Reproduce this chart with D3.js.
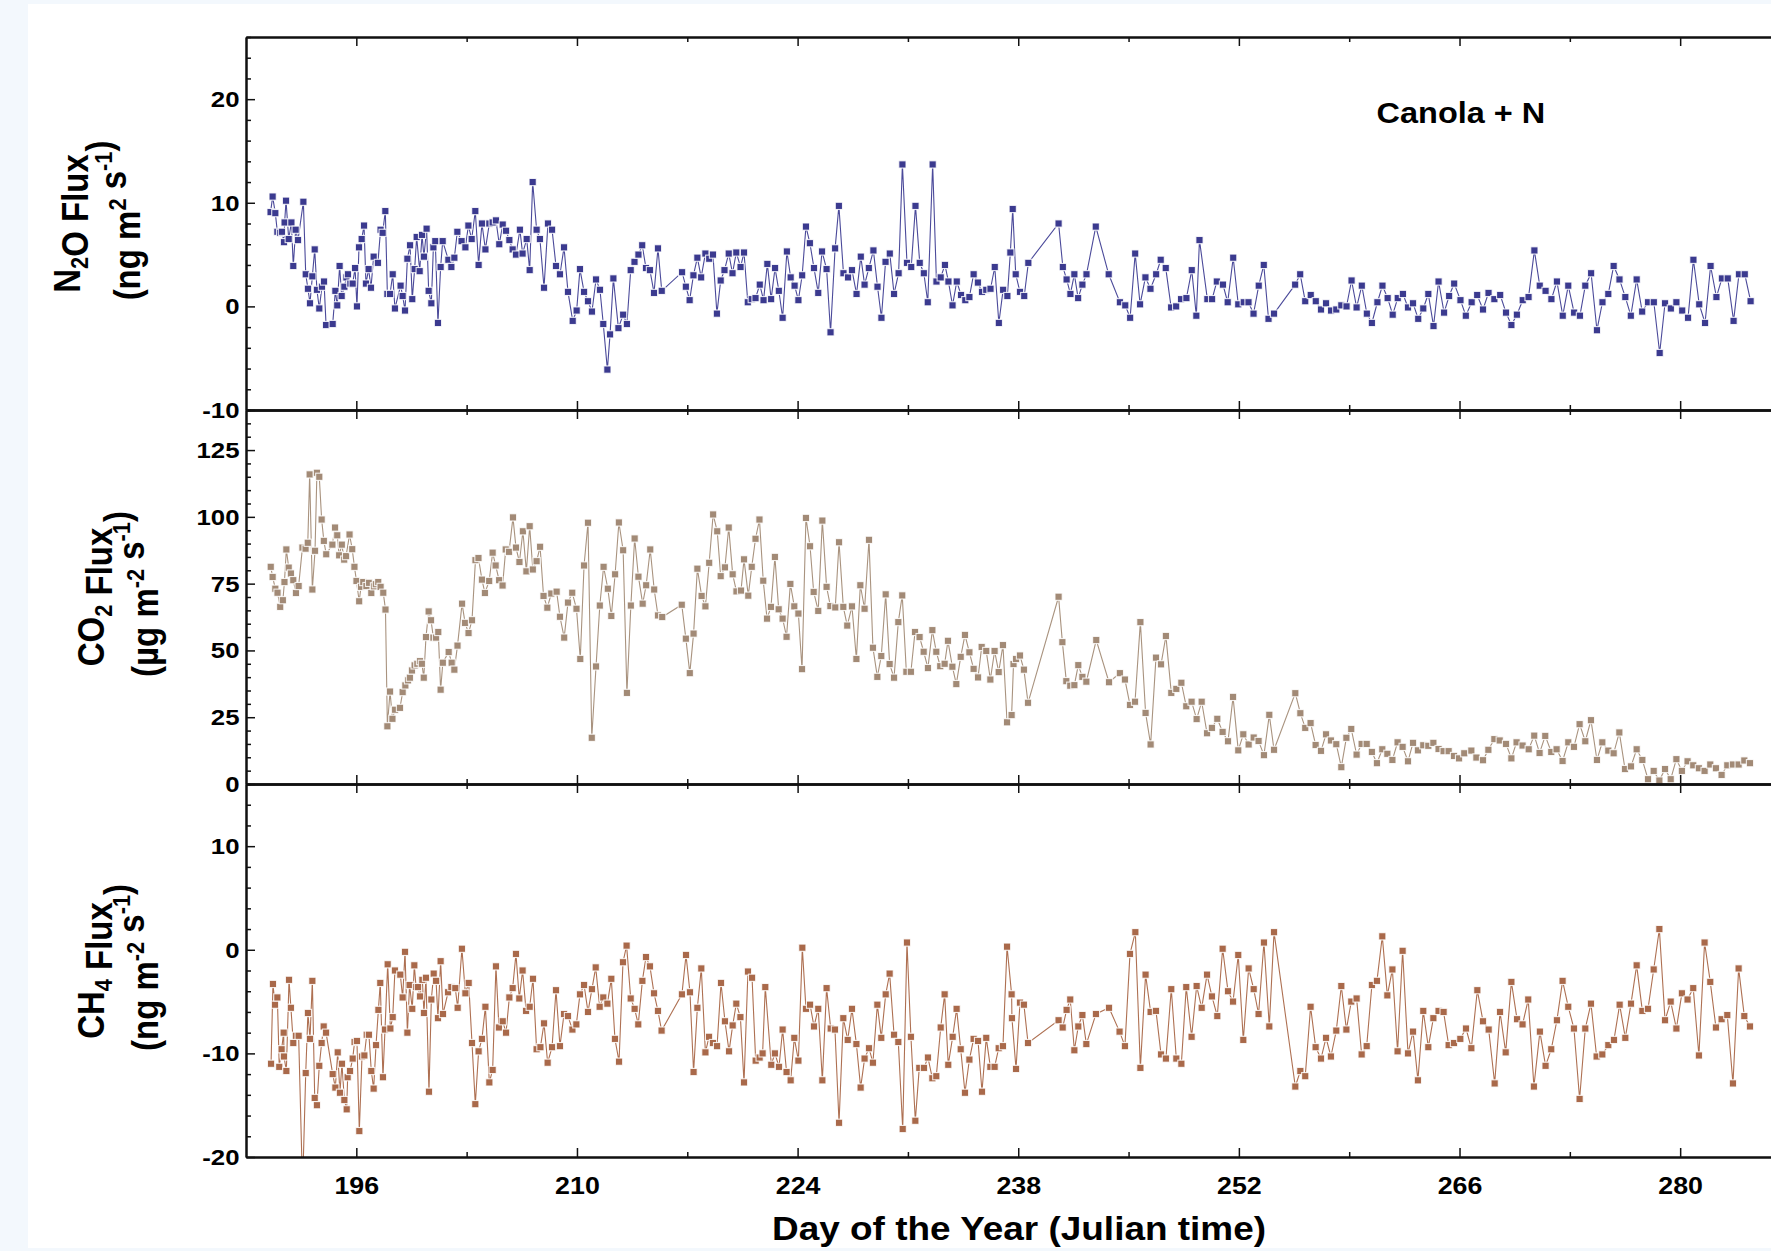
<!DOCTYPE html>
<html>
<head>
<meta charset="utf-8">
<script src="https://cdn.jsdelivr.net/npm/d3@7"></script>
<style>
body { margin: 0; background: #f3f8fd; }
svg { display: block; }
text { font-family: "Liberation Sans", Arial, Helvetica, sans-serif; font-weight: bold; fill: #000; }
</style>
</head>
<body>
<svg id="chart"></svg>
<script>
// data: [day of year, flux]
var n2oSeries = [
[190.56,9.1],[190.69,10.6],[190.86,9.0],[190.99,7.2],[191.16,7.1],[191.28,7.2],[191.41,6.2],[191.45,8.1],[191.54,10.2],[191.71,6.5],
[191.88,8.1],[192.00,3.9],[192.15,7.4],[192.30,6.4],[192.64,10.1],[192.79,3.1],[192.93,1.7],[193.06,0.3],[193.21,2.9],[193.36,5.5],
[193.50,1.6],[193.65,-0.2],[193.82,1.9],[193.95,2.4],[194.08,-1.8],[194.50,-1.7],[194.67,1.5],[194.79,0.1],[194.94,3.9],[195.07,1.0],
[195.24,1.9],[195.37,2.8],[195.47,3.1],[195.62,2.2],[195.77,2.2],[195.92,3.7],[196.04,0.0],[196.17,5.7],[196.34,6.5],[196.49,7.8],
[196.61,2.2],[196.78,3.6],[196.93,1.8],[197.10,4.8],[197.37,4.2],[197.54,7.4],[197.67,7.1],[197.84,9.2],[197.97,1.2],[198.14,1.2],
[198.31,3.1],[198.45,-0.2],[198.81,2.0],[198.94,1.0],[199.09,-0.4],[199.24,4.6],[199.41,5.9],[199.55,0.7],[199.70,3.6],[199.83,6.7],
[200.02,3.4],[200.17,6.9],[200.29,4.8],[200.46,7.5],[200.59,1.5],[200.76,0.3],[200.89,5.7],[201.01,6.3],[201.18,-1.6],[201.35,3.8],
[201.48,6.3],[201.84,4.5],[202.03,3.8],[202.22,4.7],[202.41,7.2],[202.68,6.3],[202.92,5.7],[203.11,7.8],[203.32,6.5],[203.55,9.2],
[203.76,4.0],[203.97,8.0],[204.19,5.5],[204.44,8.0],[204.65,8.1],[204.86,8.3],[205.07,6.0],[205.29,7.9],[205.50,7.3],[205.71,6.4],
[205.92,5.5],[206.13,5.0],[206.38,7.4],[206.55,5.1],[206.81,6.5],[207.00,3.5],[207.19,12.0],[207.44,7.4],[207.65,6.5],[207.91,1.8],
[208.16,8.0],[208.42,7.4],[208.67,3.9],[208.92,3.1],[209.18,5.7],[209.43,1.4],[209.73,-1.4],[209.98,-0.4],[210.19,3.6],[210.45,1.4],
[210.70,0.5],[210.95,-0.5],[211.21,2.6],[211.46,1.6],[211.67,-1.7],[211.93,-6.1],[212.10,-2.7],[212.31,2.7],[212.63,-2.1],[212.93,-0.8],
[213.17,-1.7],[213.41,3.5],[213.65,4.3],[213.90,5.0],[214.14,5.9],[214.38,3.7],[214.63,3.5],[214.89,1.3],[215.14,5.6],[215.38,1.5],
[216.67,3.3],[216.91,1.9],[217.15,0.6],[217.39,3.0],[217.64,4.7],[217.88,2.8],[218.15,5.1],[218.39,4.6],[218.63,5.0],[218.88,-0.7],
[219.12,2.5],[219.36,3.5],[219.63,5.1],[219.87,3.2],[220.11,5.2],[220.38,3.8],[220.60,5.2],[220.84,0.4],[221.09,0.7],[221.33,0.8],
[221.60,2.1],[221.84,0.6],[222.08,4.1],[222.32,0.7],[222.57,3.7],[222.81,1.5],[223.05,-1.1],[223.32,5.3],[223.56,2.8],[223.81,2.0],
[224.05,0.6],[224.29,3.0],[224.53,7.7],[224.78,6.1],[225.04,3.7],[225.31,1.3],[225.55,5.3],[225.84,3.6],[226.09,-2.5],[226.38,5.6],
[226.62,9.7],[226.91,3.2],[227.20,2.8],[227.45,3.5],[227.74,1.2],[228.01,4.8],[228.25,2.1],[228.52,3.7],[228.81,5.4],[229.07,1.9],
[229.32,-1.1],[229.58,4.3],[229.85,5.1],[230.12,1.2],[230.41,3.2],[230.65,13.7],[230.94,4.2],[231.21,3.8],[231.48,9.7],[231.75,4.2],
[232.01,3.2],[232.26,0.4],[232.57,13.7],[232.81,2.4],[233.08,2.8],[233.35,4.0],[233.57,2.4],[233.83,0.1],[234.10,2.4],[234.37,1.1],
[234.64,0.6],[234.90,0.9],[235.17,3.1],[235.44,2.3],[235.70,1.4],[235.97,1.6],[236.24,1.7],[236.51,3.8],[236.77,-1.6],[237.04,1.6],
[237.31,1.0],[237.50,5.2],[237.65,9.4],[237.84,3.1],[238.11,1.4],[238.38,1.0],[238.64,4.2],[240.56,8.0],[240.83,3.8],[241.07,2.6],
[241.31,1.2],[241.56,3.1],[241.80,0.8],[242.07,2.1],[242.33,3.1],[242.92,7.7],[243.74,3.1],[244.45,0.4],[244.79,0.1],[245.10,-1.1],
[245.42,5.1],[245.73,0.2],[246.07,2.8],[246.39,1.7],[246.75,3.1],[247.04,4.5],[247.36,3.7],[247.70,-0.1],[248.02,0.0],[248.33,0.7],
[248.67,0.8],[249.01,3.5],[249.30,-0.9],[249.50,6.4],[250.00,0.7],[250.30,0.7],[250.60,2.4],[250.99,2.1],[251.29,0.4],[251.64,4.7],
[251.96,0.2],[252.31,0.4],[252.61,0.4],[252.93,-0.7],[253.26,2.0],[253.58,4.0],[253.88,-1.2],[254.23,-0.7],[255.57,2.1],[255.89,3.1],
[256.21,0.5],[256.56,1.1],[256.88,0.5],[257.21,-0.3],[257.53,0.3],[257.85,-0.4],[258.18,-0.3],[258.50,0.1],[258.83,0.0],[259.15,2.5],
[259.47,-0.1],[259.80,2.0],[260.12,-0.7],[260.44,-1.6],[260.79,0.4],[261.11,2.0],[261.44,0.8],[261.76,-0.8],[262.08,0.8],[262.41,1.2],
[262.73,-0.1],[263.05,0.3],[263.38,-1.2],[263.70,-0.2],[264.02,1.2],[264.35,-1.9],[264.67,2.4],[265.02,-0.6],[265.34,1.0],[265.66,2.2],
[266.06,0.6],[266.40,-0.9],[266.77,0.4],[267.12,1.1],[267.49,-0.3],[267.84,1.3],[268.21,0.7],[268.58,1.1],[268.95,-0.6],[269.29,-1.8],
[269.64,-0.8],[270.01,0.6],[270.38,0.9],[270.75,5.4],[271.09,2.0],[271.46,1.5],[271.83,0.7],[272.18,2.4],[272.55,-0.9],[272.90,2.0],
[273.27,-0.6],[273.64,-0.9],[273.98,2.0],[274.35,3.2],[274.72,-2.3],[275.07,0.4],[275.44,1.2],[275.78,3.9],[276.15,2.6],[276.52,0.9],
[276.87,-0.9],[277.24,2.6],[277.59,-0.5],[277.96,0.4],[278.33,0.4],[278.70,-4.5],[279.04,0.3],[279.41,-0.2],[279.76,0.4],[280.13,-0.4],
[280.50,-1.1],[280.84,4.5],[281.21,0.2],[281.58,-1.6],[281.93,3.9],[282.30,0.9],[282.65,2.7],[283.02,2.7],[283.39,-1.4],[283.73,3.1],
[284.10,3.1],[284.47,0.5]
];

var co2Series = [
[190.57,81.3],[190.69,77.5],[190.86,73.1],[191.00,71.6],[191.17,66.3],[191.34,68.8],[191.44,75.6],[191.56,87.8],[191.71,81.0],[191.85,78.8],
[192.00,76.3],[192.17,71.5],[192.34,74.1],[192.58,88.5],[192.78,88.1],[192.92,90.3],[193.04,115.9],[193.21,72.8],[193.38,87.3],[193.50,116.5],
[193.65,115.0],[193.80,99.0],[193.94,91.0],[194.09,86.0],[194.48,89.6],[194.65,96.0],[194.79,93.1],[194.91,85.6],[195.08,89.6],[195.23,84.0],
[195.35,85.3],[195.57,93.4],[195.74,87.9],[195.88,81.3],[196.01,76.0],[196.18,68.4],[196.30,73.8],[196.44,75.6],[196.64,74.1],[196.81,75.3],
[196.95,71.5],[197.12,74.0],[197.24,74.8],[197.39,75.6],[197.54,73.8],[197.71,71.6],[197.85,65.3],[197.97,21.6],[198.14,34.6],[198.29,24.4],
[198.46,27.8],[198.77,28.5],[198.94,34.4],[199.11,36.9],[199.28,38.8],[199.40,39.8],[199.53,42.5],[199.70,44.4],[199.87,45.0],[200.04,46.0],
[200.16,45.0],[200.28,39.8],[200.42,55.0],[200.59,64.6],[200.74,61.3],[200.89,54.8],[201.06,54.8],[201.20,56.9],[201.35,35.3],[201.49,45.4],
[201.86,49.4],[202.05,45.4],[202.22,42.8],[202.42,51.8],[202.71,67.5],[202.90,60.3],[203.12,56.5],[203.34,61.3],[203.56,83.8],[203.75,84.6],
[203.97,76.5],[204.16,71.5],[204.43,76.0],[204.65,86.6],[204.84,81.8],[205.06,76.3],[205.28,74.3],[205.48,87.8],[205.69,86.9],[205.94,99.8],
[206.13,88.5],[206.35,83.1],[206.57,94.6],[206.79,79.6],[207.00,96.5],[207.20,80.3],[207.44,83.4],[207.66,88.8],[207.88,70.4],[208.12,66.0],
[208.37,71.3],[208.71,72.0],[208.92,62.6],[209.19,54.8],[209.43,67.9],[209.70,71.6],[209.97,65.6],[210.21,46.8],[210.45,81.8],[210.70,97.8],
[210.94,17.3],[211.21,44.0],[211.45,66.8],[211.69,81.3],[211.96,73.1],[212.18,62.9],[212.42,78.5],[212.66,97.9],[212.93,87.5],[213.17,34.1],
[213.42,66.8],[213.66,91.9],[213.90,77.6],[214.17,67.5],[214.39,74.4],[214.65,87.8],[214.90,72.8],[215.14,63.1],[215.41,62.5],[216.65,67.1],
[216.91,54.4],[217.16,41.5],[217.40,56.3],[217.64,80.6],[217.91,70.4],[218.15,66.5],[218.39,82.8],[218.64,100.9],[218.90,94.6],[219.12,77.8],
[219.39,81.1],[219.63,96.0],[219.88,78.5],[220.12,72.1],[220.41,72.4],[220.60,84.1],[220.87,70.5],[221.09,81.3],[221.33,91.8],[221.58,99.0],
[221.82,76.1],[222.06,61.9],[222.31,66.3],[222.56,85.0],[222.80,65.4],[223.05,61.9],[223.30,55.1],[223.54,74.9],[223.79,66.5],[224.05,63.8],
[224.28,43.0],[224.53,99.6],[224.79,89.0],[225.02,71.9],[225.31,64.8],[225.57,98.6],[225.84,73.8],[226.08,66.6],[226.39,66.1],[226.63,90.5],
[226.90,66.3],[227.15,59.3],[227.45,66.5],[227.73,46.8],[227.98,74.4],[228.25,65.6],[228.53,91.4],[228.78,51.0],[229.06,40.1],[229.31,47.9],
[229.59,71.0],[229.84,44.9],[230.12,39.8],[230.39,60.6],[230.64,70.6],[230.90,42.0],[231.19,42.0],[231.45,56.9],[231.74,55.0],[232.00,49.5],
[232.27,43.4],[232.55,57.6],[232.80,49.5],[233.05,44.1],[233.33,45.0],[233.54,53.6],[233.82,43.9],[234.07,37.4],[234.35,47.6],[234.62,55.8],
[234.90,49.3],[235.17,43.1],[235.45,39.9],[235.68,51.3],[235.97,49.8],[236.23,39.1],[236.50,49.8],[236.76,41.9],[237.03,52.0],[237.29,23.1],
[237.58,25.8],[237.70,44.9],[237.86,46.8],[238.11,48.1],[238.36,42.8],[238.62,30.4],[240.56,70.1],[240.80,53.1],[241.05,38.5],[241.30,36.8],
[241.56,37.0],[241.81,44.5],[242.07,40.1],[242.32,38.3],[242.95,53.9],[243.76,38.1],[244.45,41.5],[244.77,39.1],[245.09,29.6],[245.41,30.8],
[245.75,60.6],[246.08,26.6],[246.40,14.8],[246.74,47.3],[247.06,44.8],[247.37,55.4],[247.71,34.1],[248.03,35.6],[248.35,37.9],[248.66,29.1],
[249.00,30.8],[249.32,24.3],[249.64,30.8],[249.98,19.0],[250.29,21.0],[250.63,24.4],[250.97,19.5],[251.31,16.0],[251.63,32.6],[251.96,12.6],
[252.28,18.6],[252.62,14.8],[252.94,17.4],[253.25,16.1],[253.59,10.8],[253.93,25.9],[254.23,12.8],[255.58,34.0],[255.90,26.5],[256.21,21.0],
[256.55,22.8],[256.87,14.6],[257.21,12.4],[257.53,18.6],[257.84,16.3],[258.18,14.9],[258.50,6.3],[258.82,17.3],[259.13,20.6],[259.47,11.0],
[259.79,15.0],[260.11,15.0],[260.44,12.0],[260.76,7.8],[261.10,13.0],[261.42,11.3],[261.74,9.0],[262.07,15.6],[262.39,13.9],[262.73,8.5],
[263.05,15.4],[263.36,12.6],[263.70,14.5],[264.02,14.3],[264.34,15.4],[264.67,13.1],[264.99,12.3],[265.31,12.3],[265.65,10.5],[265.97,9.6],
[266.30,11.5],[266.75,12.5],[267.07,9.9],[267.49,8.9],[267.83,12.8],[268.21,16.8],[268.55,16.3],[268.95,15.0],[269.29,9.6],[269.62,15.6],
[270.00,14.4],[270.39,13.0],[270.74,18.1],[271.08,11.6],[271.44,18.0],[271.82,12.0],[272.16,13.0],[272.54,8.6],[272.90,15.6],[273.26,13.9],
[273.62,22.4],[273.98,16.0],[274.34,23.9],[274.72,9.0],[275.06,15.6],[275.44,12.5],[275.78,11.5],[276.14,19.3],[276.50,5.6],[276.88,6.6],
[277.24,13.0],[277.60,9.0],[277.96,1.8],[278.32,4.9],[278.68,1.3],[279.04,5.6],[279.40,1.8],[279.76,9.3],[280.11,4.9],[280.47,8.5],
[280.83,7.0],[281.19,5.9],[281.55,4.9],[281.91,7.3],[282.27,5.9],[282.63,3.4],[282.99,7.0],[283.35,7.3],[283.71,7.3],[284.07,8.8],
[284.43,7.8]
];

var ch4Series = [
[190.59,-11.0],[190.71,-3.3],[190.84,-5.3],[190.99,-4.6],[191.11,-11.3],[191.26,-9.6],[191.39,-8.0],[191.41,-10.3],[191.56,-11.7],[191.73,-2.9],
[191.85,-5.6],[192.00,-9.0],[192.17,-8.3],[192.34,-8.3],[192.59,-23.0],[192.79,-11.9],[192.93,-6.1],[193.06,-8.6],[193.21,-3.0],[193.36,-14.3],
[193.50,-15.0],[193.65,-11.2],[193.80,-9.0],[193.93,-7.4],[194.08,-8.0],[194.50,-12.0],[194.67,-13.3],[194.82,-9.9],[194.96,-13.8],[195.09,-11.0],
[195.24,-14.5],[195.39,-15.4],[195.45,-12.3],[195.60,-11.7],[195.77,-10.5],[195.89,-8.9],[196.04,-8.8],[196.19,-17.5],[196.36,-10.3],[196.51,-10.2],
[196.66,-8.2],[196.80,-8.2],[196.95,-11.7],[197.10,-13.4],[197.25,-9.2],[197.40,-5.8],[197.52,-3.2],[197.69,-12.3],[197.82,-7.7],[197.99,-1.4],
[198.16,-7.6],[198.31,-6.5],[198.45,-2.0],[198.79,-2.4],[198.94,-4.6],[199.09,-0.2],[199.24,-8.0],[199.38,-3.4],[199.55,-5.7],[199.68,-1.5],
[199.79,-3.6],[199.91,-3.6],[200.04,-4.5],[200.19,-2.9],[200.29,-6.1],[200.42,-2.7],[200.61,-13.7],[200.76,-4.8],[200.91,-2.3],[201.06,-3.0],
[201.18,-6.6],[201.35,-1.1],[201.50,-6.2],[201.82,-4.1],[202.03,-3.6],[202.28,-3.7],[202.43,-5.6],[202.70,0.1],[202.92,-4.2],[203.13,-3.2],
[203.34,-9.0],[203.55,-14.9],[203.76,-9.8],[203.97,-8.6],[204.19,-5.5],[204.44,-12.8],[204.65,-11.6],[204.86,-1.6],[205.05,-7.5],[205.29,-6.9],
[205.50,-8.0],[205.71,-4.6],[205.92,-3.7],[206.13,-0.4],[206.34,-4.7],[206.55,-2.0],[206.77,-5.9],[207.00,-5.5],[207.21,-2.8],[207.44,-9.6],
[207.68,-9.4],[207.91,-7.1],[208.14,-10.9],[208.42,-9.4],[208.67,-3.9],[208.92,-9.3],[209.18,-6.2],[209.43,-6.4],[209.71,-7.7],[209.96,-7.2],
[210.19,-4.3],[210.45,-3.4],[210.70,-6.0],[210.95,-3.8],[211.19,-1.7],[211.44,-5.5],[211.67,-4.6],[211.93,-5.2],[212.18,-2.8],[212.41,-8.6],
[212.67,-10.8],[212.92,-1.2],[213.15,0.4],[213.41,-4.7],[213.66,-5.7],[213.89,-7.2],[214.15,-3.0],[214.38,-0.7],[214.63,-1.6],[214.89,-4.2],
[215.14,-5.9],[215.37,-7.8],[216.66,-4.3],[216.92,-0.5],[217.17,-4.1],[217.40,-11.8],[217.64,-5.6],[217.89,-1.8],[218.15,-9.9],[218.38,-8.4],
[218.63,-9.0],[218.89,-9.3],[219.14,-3.2],[219.39,-6.9],[219.65,-9.8],[219.88,-7.3],[220.11,-5.2],[220.37,-6.5],[220.60,-12.8],[220.85,-2.1],
[221.11,-2.7],[221.34,-10.7],[221.59,-10.4],[221.78,-10.0],[221.95,-3.6],[222.33,-11.1],[222.56,-10.0],[222.82,-11.3],[223.05,-7.7],[223.30,-11.8],
[223.56,-12.6],[223.79,-8.5],[224.05,-10.7],[224.30,0.2],[224.53,-5.7],[224.79,-5.3],[225.04,-7.4],[225.31,-5.7],[225.57,-12.6],[225.84,-3.7],
[226.10,-7.6],[226.37,-7.7],[226.63,-16.7],[226.90,-6.6],[227.18,-8.7],[227.45,-5.7],[227.73,-9.1],[228.00,-13.3],[228.25,-10.5],[228.53,-9.5],
[228.78,-10.9],[229.06,-5.3],[229.31,-8.5],[229.59,-4.3],[229.84,-2.3],[230.12,-8.2],[230.39,-8.9],[230.67,-17.3],[230.94,0.7],[231.19,-8.4],
[231.47,-16.5],[231.72,-11.4],[232.02,-11.4],[232.27,-10.4],[232.55,-12.4],[232.80,-12.2],[233.08,-7.5],[233.33,-4.3],[233.56,-11.1],[233.84,-8.4],
[234.09,-5.7],[234.35,-9.6],[234.62,-13.8],[234.90,-10.6],[235.17,-8.6],[235.45,-8.8],[235.70,-13.7],[235.97,-8.5],[236.23,-11.3],[236.50,-11.3],
[236.76,-9.5],[237.03,-9.3],[237.29,0.3],[237.58,-4.3],[237.60,-6.6],[237.86,-11.5],[238.11,-5.1],[238.36,-5.3],[238.62,-9.0],[240.56,-6.8],
[240.82,-7.5],[241.07,-5.8],[241.30,-4.8],[241.56,-9.7],[241.81,-7.4],[242.07,-6.3],[242.32,-9.1],[242.93,-6.2],[243.76,-5.6],[244.43,-7.9],
[244.77,-9.3],[245.09,-0.4],[245.43,1.7],[245.75,-11.4],[246.08,-2.4],[246.40,-6.0],[246.74,-5.9],[247.06,-10.1],[247.37,-10.5],[247.71,-3.8],
[248.03,-10.5],[248.35,-11.0],[248.66,-3.6],[249.00,-8.4],[249.32,-3.5],[249.64,-5.6],[249.98,-2.4],[250.29,-4.5],[250.63,-6.4],[250.97,0.1],
[251.31,-4.0],[251.63,-5.0],[251.96,-0.5],[252.28,-8.7],[252.62,-1.8],[252.94,-3.8],[253.25,-6.2],[253.59,0.7],[253.93,-7.4],[254.23,1.7],
[255.58,-13.2],[255.90,-11.7],[256.21,-12.2],[256.55,-5.5],[256.87,-9.4],[257.21,-10.5],[257.53,-8.5],[257.84,-10.3],[258.18,-7.8],[258.50,-3.5],
[258.82,-7.7],[259.13,-5.0],[259.47,-4.7],[259.79,-10.1],[260.11,-9.3],[260.44,-3.4],[260.76,-3.0],[261.10,1.3],[261.42,-4.4],[261.74,-1.9],
[262.07,-9.8],[262.39,-0.1],[262.73,-10.0],[263.05,-7.9],[263.36,-12.6],[263.70,-5.9],[264.02,-9.4],[264.34,-6.6],[264.67,-5.9],[264.99,-6.0],
[265.31,-9.2],[265.65,-9.0],[266.05,-8.6],[266.41,-7.6],[266.75,-9.5],[267.13,-3.9],[267.49,-6.9],[267.85,-7.7],[268.23,-12.9],[268.57,-6.0],
[268.93,-9.9],[269.29,-3.1],[269.65,-6.7],[270.00,-7.2],[270.36,-4.8],[270.72,-13.2],[271.10,-7.9],[271.46,-11.2],[271.82,-9.6],[272.18,-6.8],
[272.54,-3.0],[272.90,-5.5],[273.26,-7.6],[273.62,-14.4],[273.98,-7.6],[274.34,-5.2],[274.70,-10.3],[275.06,-10.1],[275.44,-9.2],[275.80,-8.7],
[276.16,-5.3],[276.52,-8.5],[276.88,-5.2],[277.24,-1.5],[277.60,-5.9],[277.96,-5.7],[278.32,-1.9],[278.68,2.0],[279.04,-6.8],[279.40,-5.0],
[279.76,-7.6],[280.11,-4.2],[280.47,-4.8],[280.83,-3.7],[281.19,-10.2],[281.55,0.7],[281.91,-3.1],[282.27,-7.5],[282.63,-6.7],[282.99,-6.3],
[283.35,-12.9],[283.71,-1.8],[284.07,-6.4],[284.43,-7.4]
];

// tick labels
var dayTicks = [196, 210, 224, 238, 252, 266, 280];
var dayMinorTicks = [203, 217, 231, 245, 259, 273, 287];
var n2oTicks = [-10, 0, 10, 20];
var co2Ticks = [0, 25, 50, 75, 100, 125];
var ch4Ticks = [-20, -10, 0, 10];

var W = 1771, H = 1251;
var svg = d3.select("#chart").attr("width", W).attr("height", H);

// page: light tint at the edges, white sheet
svg.append("rect").attr("width", W).attr("height", H).attr("fill", "#f3f8fd");
svg.append("rect").attr("x", 28).attr("y", 4).attr("width", W - 28).attr("height", 1244).attr("fill", "#fff");

var left = 246;
var xScale = d3.scaleLinear().domain([189, 287]).range([left, left + 98 * 15.76]);

var panels = [
  {id: "n2o", data: n2oSeries, top: 37, bottom: 410, domain: [-10, 26], ticks: n2oTicks, minor: 2,
   marker: "#3b3a8f", line: "#4b4a9a",
   title: [["N"], ["2", "sub"], ["O Flux"]],
   unit: [["(ng m"], ["2", "sup"], [" s"], ["-1", "sup"], [")"]], tx1: 80, tx2: 140},
  {id: "co2", data: co2Series, top: 410, bottom: 784, domain: [0, 140], ticks: co2Ticks, minor: 5,
   marker: "#a28a76", line: "#a9937f",
   title: [["CO"], ["2", "sub"], [" Flux"]],
   unit: [["(\u00b5g m"], ["-2", "sup"], [" s"], ["-1", "sup"], [")"]], tx1: 104, tx2: 158},
  {id: "ch4", data: ch4Series, top: 784, bottom: 1157, domain: [-20, 16], ticks: ch4Ticks, minor: 2,
   marker: "#a9694a", line: "#ae7052",
   title: [["CH"], ["4", "sub"], [" Flux"]],
   unit: [["(ng m"], ["-2", "sup"], [" s"], ["-1", "sup"], [")"]], tx1: 104, tx2: 158}
];

// plain hyphen for negatives, as in the figure
var plainFormat = function(d) { return String(d); };

function stretchText(sel, k) {
  sel.each(function() {
    var t = d3.select(this);
    var x = +t.attr("x") || 0;
    t.attr("transform", "translate(" + x + ",0) scale(" + k + ",1)").attr("x", 0);
  });
}

function styleAxis(g) {
  g.attr("font-family", null).attr("font-size", null);
  g.select(".domain").attr("stroke", "#111").attr("stroke-width", 2);
  g.selectAll(".tick line").attr("stroke", "#111").attr("stroke-width", 1.5);
}

function richText(el, parts, size) {
  parts.forEach(function(p) {
    var ts = el.append("tspan").text(p[0]);
    if (p[1] == "sub") ts.attr("font-size", size * 0.66).attr("dy", size * 0.22);
    if (p[1] == "sup") ts.attr("font-size", size * 0.66).attr("dy", -size * 0.38);
    if (p[1]) {
      var back = p[1] == "sub" ? -size * 0.22 : size * 0.38;
      el.append("tspan").attr("font-size", size).attr("dy", back).text("");
    }
  });
}

panels.forEach(function(p) {
  var y = d3.scaleLinear().domain(p.domain).range([p.bottom, p.top]);
  var clipId = "clip-" + p.id;
  svg.append("clipPath").attr("id", clipId).append("rect")
    .attr("x", left).attr("y", p.top).attr("width", W - left).attr("height", p.bottom - p.top);

  var plot = svg.append("g").attr("clip-path", "url(#" + clipId + ")");

  var line = d3.line()
    .x(function(d) { return xScale(d[0]); })
    .y(function(d) { return y(d[1]); });

  plot.append("path")
    .datum(p.data)
    .attr("d", line)
    .attr("fill", "none")
    .attr("stroke", p.line)
    .attr("stroke-width", 1.1);

  plot.selectAll(".dot")
    .data(p.data)
    .enter()
    .append("rect")
    .attr("class", "dot")
    .attr("x", function(d) { return xScale(d[0]) - 3.6; })
    .attr("y", function(d) { return y(d[1]) - 3.6; })
    .attr("width", 7.2)
    .attr("height", 7.2)
    .attr("fill", p.marker)
    .attr("stroke", "#fff")
    .attr("stroke-opacity", 0.85)
    .attr("stroke-width", 1.1);

  // y axis: major ticks with labels, minor ticks, all pointing inward
  var minorVals = d3.range(p.domain[0], p.domain[1] + 0.001, p.minor)
    .filter(function(v) { return p.ticks.indexOf(v) < 0; });
  var gyMinor = svg.append("g").attr("transform", "translate(" + left + ",0)")
    .call(d3.axisLeft(y).tickValues(minorVals).tickSizeInner(-5).tickSizeOuter(0).tickFormat(""));
  styleAxis(gyMinor);
  var gy = svg.append("g").attr("transform", "translate(" + left + ",0)")
    .call(d3.axisLeft(y).tickValues(p.ticks).tickSizeInner(-9).tickSizeOuter(0).tickPadding(6.5).tickFormat(plainFormat));
  styleAxis(gy);
  gy.selectAll(".tick text").attr("font-size", 23).attr("fill", "#000");
  stretchText(gy.selectAll(".tick text"), 1.12);

  // x ticks on top and bottom of every panel
  [["top", p.top], ["bottom", p.bottom]].forEach(function(s) {
    var mk = s[0] == "top" ? d3.axisTop : d3.axisBottom;
    var gMaj = svg.append("g").attr("transform", "translate(0," + s[1] + ")")
      .call(mk(xScale).tickValues(dayTicks).tickSizeInner(-9).tickSizeOuter(0).tickFormat(""));
    styleAxis(gMaj);
    var gMin = svg.append("g").attr("transform", "translate(0," + s[1] + ")")
      .call(mk(xScale).tickValues(dayMinorTicks).tickSizeInner(-5).tickSizeOuter(0).tickFormat(""));
    styleAxis(gMin);
  });

  // axis title, two lines, rotated
  var cy = (p.top + p.bottom) / 2;
  var t1 = svg.append("text")
    .attr("transform", "translate(" + p.tx1 + "," + cy + ") rotate(-90) scale(1,1.1)")
    .attr("text-anchor", "middle")
    .attr("font-size", 33);
  richText(t1, p.title, 33);
  var t2 = svg.append("text")
    .attr("transform", "translate(" + p.tx2 + "," + (cy - 3) + ") rotate(-90) scale(1,1.1)")
    .attr("text-anchor", "middle")
    .attr("font-size", 33);
  richText(t2, p.unit, 33);
});

// x labels under the bottom panel
var gx = svg.append("g").attr("transform", "translate(0,1157)")
  .call(d3.axisBottom(xScale).tickValues(dayTicks).tickSize(0).tickPadding(20).tickFormat(plainFormat));
gx.attr("font-family", null).attr("font-size", null);
gx.select(".domain").remove();
gx.selectAll(".tick text").attr("font-size", 23.5).attr("fill", "#000");
stretchText(gx.selectAll(".tick text"), 1.14);

svg.append("text")
  .attr("transform", "translate(1019,1240) scale(1.12,1)")
  .attr("text-anchor", "middle")
  .attr("font-size", 33)
  .text("Day of the Year (Julian time)");

svg.append("text")
  .attr("transform", "translate(1376.6,123.3) scale(1.1,1)")
  .attr("font-size", 29.5)
  .text("Canola + N");
</script>
</body>
</html>
